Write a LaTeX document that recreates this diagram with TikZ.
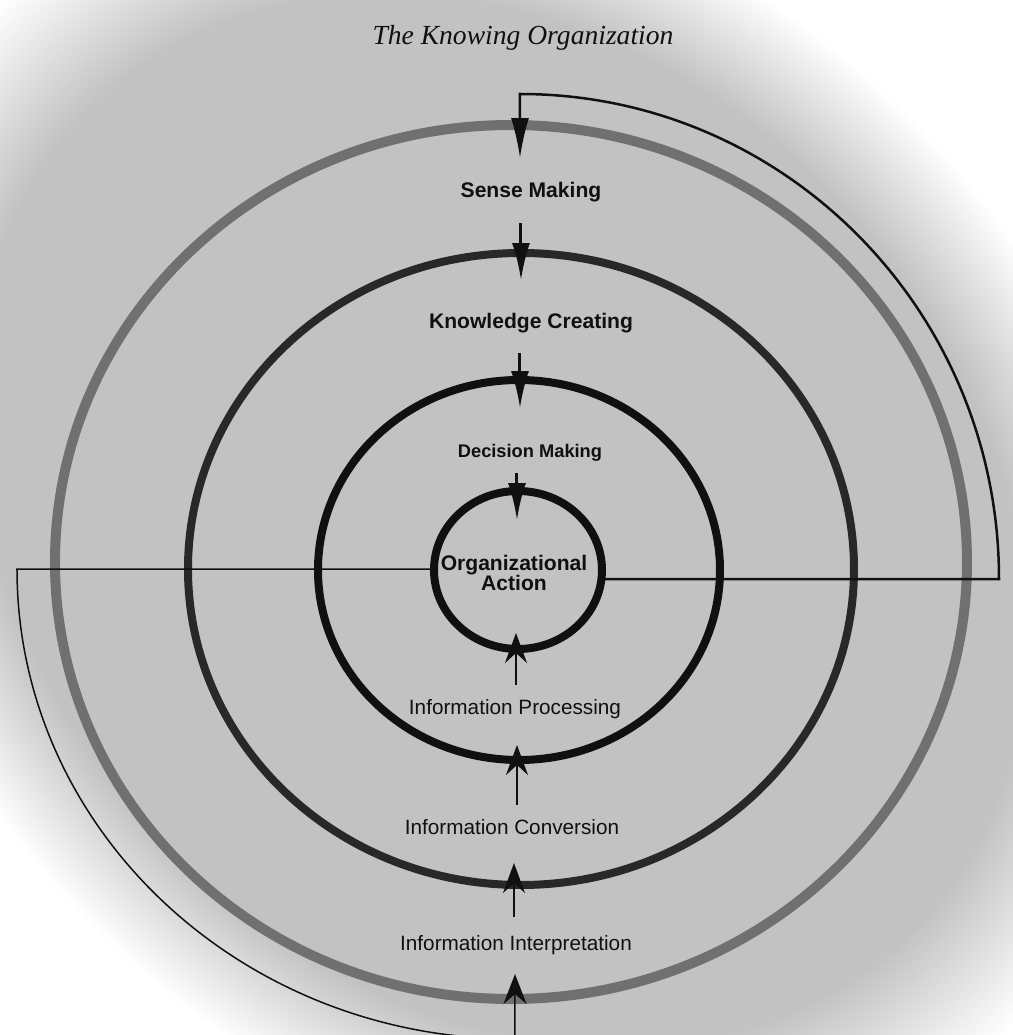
\documentclass[tikz,border=0pt]{standalone}
\usepackage{fontspec}
\setmainfont{Liberation Serif}
\setsansfont{Liberation Sans}
\usepackage{xcolor}
\usepackage{tikz}
\usetikzlibrary{arrows.meta}
\definecolor{pagegray}{RGB}{194,194,194}
\definecolor{ringgray}{RGB}{112,112,112}
\definecolor{ringdark}{RGB}{40,40,40}
\definecolor{inkblack}{RGB}{16,16,16}
\pgfdeclareradialshading{pagefade}{\pgfpoint{0bp}{0bp}}{color(0bp)=(pagegray); color(14.5bp)=(pagegray); color(18bp)=(white); color(50bp)=(white)}

\begin{document}
\begin{tikzpicture}[x=0.02cm, y=0.02cm,
    every node/.style={text=inkblack, inner sep=0pt},
    toplabel/.style={font=\sffamily\bfseries\fontsize{12}{11.4}\selectfont, align=center},
    lowlabel/.style={font=\sffamily\fontsize{11.8}{14}\selectfont},
    ring/.style={line width=0.16cm, draw=inkblack},
    feedline/.style={draw=inkblack, line width=0.05cm},
    downflow/.style={draw=inkblack, line width=0.06cm, -{Latex[length=0.74cm, width=0.36cm]}},
    upflow/.style={draw=inkblack, line width=0.035cm, -{Stealth[length=0.6cm, width=0.44cm, inset=0.2cm]}}]
% --- page (1013 x 1035 px, origin at the centre of the rings) ---
\useasboundingbox (-518,-465) rectangle (495,570);
\clip (-518,-465) rectangle (495,570);
\fill[white] (-518,-465) rectangle (495,570);
\shade[shading=pagefade, transform canvas={shift={(-18,50)}, rotate=-45, xscale=1.25}] (0,0) circle [radius=800];
\node[font=\itshape\fontsize{15.7}{18}\selectfont, anchor=base] (title) at (5,525) {The Knowing Organization};

% --- rings ---
\draw[ring, draw=ringgray, line width=0.2cm] (-7,8) ellipse [x radius=456, y radius=437];
\draw[ring, draw=ringdark] (3,1) ellipse [x radius=333, y radius=316];
\draw[ring] (1,0) ellipse [x radius=201, y radius=190];
\draw[ring] (0,0) ellipse [x radius=84, y radius=79];

% --- labels ---
\node[toplabel] (sense) at (13,378) {Sense Making};
\node[toplabel] (know) at (13,247) {Knowledge Creating};
\node[toplabel, font=\sffamily\bfseries\fontsize{10.4}{12}\selectfont] (decide) at (12,117) {Decision Making};
\node[toplabel] (action) at (-4,-3) {Organizational\\Action};
\node[lowlabel] (proc) at (-3,-139) {Information Processing};
\node[lowlabel] (conv) at (-6,-257) {Information Conversion};
\node[lowlabel] (interp) at (-2,-375) {Information Interpretation};

% --- feedback lines round the outside ---
\coordinate (fbR0) at (84,-9);
\coordinate (fbR1) at (481,-9);
\coordinate (fbRt) at (2,412);
\draw[feedline, -{Latex[length=0.8cm, width=0.36cm]}] (fbR0) -- (fbR1)
    arc [start angle=0, end angle=90, x radius=479, y radius=485] -- (fbRt);
\coordinate (fbL0) at (-84,1);
\coordinate (fbL1) at (-501,1);
\coordinate (fbLt) at (-3,-404);
\draw[feedline, line width=0.03cm, -{Stealth[length=0.6cm, width=0.46cm, inset=0.2cm]}] (fbL0) -- (fbL1)
    arc [start angle=180, end angle=270, x radius=498, y radius=470] -- (fbLt);

% --- arrows inward ---
\foreach \n/\x/\ys/\yt in {2/3/347/290, 3/2/217/162, 4/-1/97/50} {
    \coordinate (dn\n s) at (\x,\ys);
    \coordinate (dn\n t) at (\x,\yt);
    \draw[downflow] (dn\n s) -- (dn\n t);
}
\foreach \n/\x/\ys/\yt in {1/-2/-115/-63, 2/-1/-235/-175, 3/-4/-347/-293} {
    \coordinate (up\n s) at (\x,\ys);
    \coordinate (up\n t) at (\x,\yt);
    \draw[upflow] (up\n s) -- (up\n t);
}
\end{tikzpicture}
\end{document}
